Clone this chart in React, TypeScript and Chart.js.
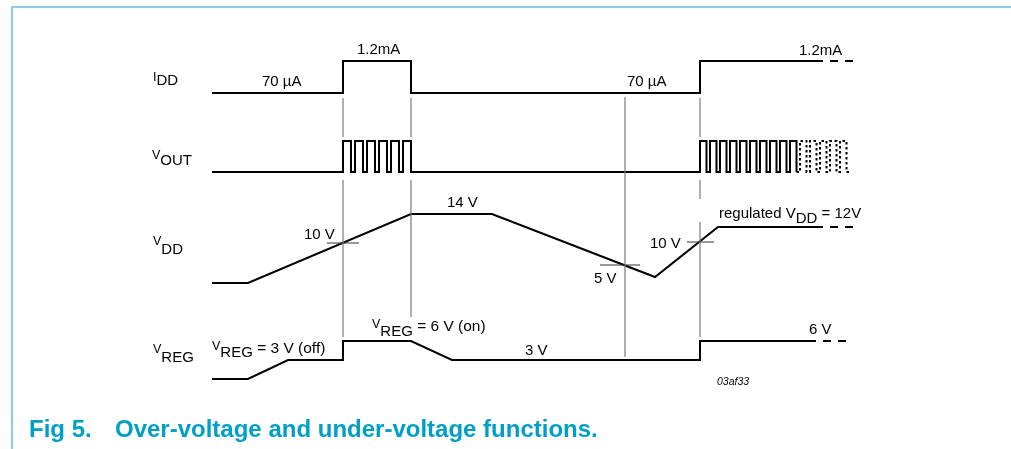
import React, { useEffect, useRef } from "react";
import { Chart, registerables } from "chart.js";

Chart.register(...registerables);

const W = 1011;
const H = 449;

// ---- Signal breakpoints (time axis, diagram level axis) ----
// I_DD
const iddTimes = [212, 343, 343, 411, 411, 700, 700, 815];
const iddLevels = [93, 93, 61, 61, 93, 93, 61, 61];
const iddDashTimes = [815, 855];
const iddDashLevels = [61, 61];

// V_OUT pulse trains: rising / falling edge times
const voutLow = 172;
const voutHigh = 141;
const voutStart = 212;
const burst1Rise = [343, 355, 367, 379, 391, 403];
const burst1Fall = [351, 363, 375, 387, 399, 411];
const burst2Rise = [700, 710, 720, 730, 740, 750, 760, 770, 780, 790];
const burst2Fall = [706.5, 716.5, 726.5, 736.5, 746.5, 756.5, 766.5, 776.5, 786.5, 796.5];
const burst3Rise = [800, 810, 820, 830, 840];
const burst3Fall = [806.5, 816.5, 826.5, 836.5, 846.5];
const voutEnd = 851;

// V_DD
const vddTimes = [212, 248, 411, 492, 655, 718, 815];
const vddLevels = [283, 283, 214, 214, 277, 227, 227];
const vddDashTimes = [815, 856];
const vddDashLevels = [227, 227];

// V_REG
const vregTimes = [212, 248, 288, 343, 343, 411, 452, 700, 700, 808];
const vregLevels = [379, 379, 360, 360, 341, 341, 360, 360, 341, 341];
const vregDashTimes = [808, 850];
const vregDashLevels = [341, 341];

// Threshold markers on V_DD
const markTimes = [343, 625, 700];
const markLevels = [243, 265, 242];
const markLeft = [327, 600, 687];
const markRight = [359, 640, 714];

// Vertical reference lines: time and visible spans
const guideTimes = [343, 343, 411, 411, 625, 700, 700, 700];
const guideFrom = [98, 180, 98, 180, 97, 98, 180, 222];
const guideTo = [137, 337, 137, 317, 357, 137, 199, 337];

const FONT = '"Liberation Sans", Arial, Helvetica, sans-serif';

type Run = { text: string; size: number; base: number; italic?: boolean };
type Label = { x: number; runs: Run[] };

const labels: Label[] = [
  { x: 153, runs: [{ text: "I", size: 12.5, base: 81 }, { text: "DD", size: 15, base: 85 }] },
  { x: 152, runs: [{ text: "V", size: 12.5, base: 159 }, { text: "OUT", size: 15, base: 165 }] },
  { x: 153, runs: [{ text: "V", size: 12.5, base: 245 }, { text: "DD", size: 15, base: 254 }] },
  { x: 153, runs: [{ text: "V", size: 12.5, base: 353 }, { text: "REG", size: 15, base: 362 }] },
  { x: 262, runs: [{ text: "70 µA", size: 15, base: 86 }] },
  { x: 357, runs: [{ text: "1.2mA", size: 15, base: 54 }] },
  { x: 627, runs: [{ text: "70 µA", size: 15, base: 86 }] },
  { x: 799, runs: [{ text: "1.2mA", size: 15, base: 55 }] },
  { x: 304, runs: [{ text: "10 V", size: 15, base: 239 }] },
  { x: 447, runs: [{ text: "14 V", size: 15, base: 207 }] },
  { x: 594, runs: [{ text: "5 V", size: 15, base: 283 }] },
  { x: 650, runs: [{ text: "10 V", size: 15, base: 248 }] },
  { x: 525, runs: [{ text: "3 V", size: 15, base: 355 }] },
  { x: 809, runs: [{ text: "6 V", size: 15, base: 334 }] },
  {
    x: 212,
    runs: [
      { text: "V", size: 12.5, base: 350 },
      { text: "REG", size: 15, base: 357 },
      { text: " = 3 V (off)", size: 15.5, base: 353 },
    ],
  },
  {
    x: 372,
    runs: [
      { text: "V", size: 12.5, base: 328 },
      { text: "REG", size: 15, base: 336 },
      { text: " = 6 V (on)", size: 15.5, base: 331 },
    ],
  },
  {
    x: 719,
    runs: [
      { text: "regulated V", size: 15, base: 218 },
      { text: "DD", size: 15, base: 223 },
      { text: " = 12V", size: 15, base: 218 },
    ],
  },
  { x: 717, runs: [{ text: "03af33", size: 10.5, base: 385, italic: true }] },
];

const captionNum = "Fig 5.";
const captionText = "Over-voltage and under-voltage functions.";

function zipPts(t: number[], v: number[]) {
  return t.map((x, i) => ({ x, y: v[i] }));
}

function pulsePts(start: number, rises: number[], falls: number[], end: number) {
  const pts: { x: number; y: number }[] = [{ x: start, y: voutLow }];
  rises.forEach((r, i) => {
    pts.push({ x: r, y: voutLow }, { x: r, y: voutHigh }, { x: falls[i], y: voutHigh }, { x: falls[i], y: voutLow });
  });
  pts.push({ x: end, y: voutLow });
  return pts;
}

function line(data: { x: number; y: number }[], opts: any = {}) {
  return {
    data,
    showLine: true,
    pointRadius: 0,
    borderColor: "#000",
    borderWidth: 2,
    tension: 0,
    fill: false,
    borderCapStyle: "butt",
    borderJoinStyle: "miter",
    ...opts,
  };
}

const decorPlugin = {
  id: "decor",
  beforeDraw(chart: any) {
    const ctx = chart.ctx;
    ctx.save();
    ctx.fillStyle = "#fff";
    ctx.fillRect(0, 0, chart.width, chart.height);
    ctx.strokeStyle = "#86d0e2";
    ctx.lineWidth = 2;
    ctx.beginPath();
    ctx.moveTo(12, chart.height);
    ctx.lineTo(12, 7);
    ctx.lineTo(chart.width, 7);
    ctx.stroke();
    ctx.restore();
  },
  afterDatasetsDraw(chart: any) {
    const ctx = chart.ctx;
    const xs = chart.scales.x;
    const ys = chart.scales.y;
    ctx.save();
    ctx.fillStyle = "#000";
    ctx.textBaseline = "alphabetic";
    ctx.textAlign = "left";
    labels.forEach((lab) => {
      let px = xs.getPixelForValue(lab.x);
      lab.runs.forEach((r) => {
        ctx.font = `${r.italic ? "italic " : ""}${r.size}px ${FONT}`;
        ctx.fillText(r.text, px, ys.getPixelForValue(r.base));
        px += ctx.measureText(r.text).width;
      });
    });
    ctx.fillStyle = "#00a0c6";
    ctx.font = `bold 24px ${FONT}`;
    ctx.fillText(captionNum, 29, 437);
    ctx.fillText(captionText, 115, 437);
    ctx.restore();
  },
};

export default function App() {
  const ref = useRef<HTMLCanvasElement | null>(null);

  useEffect(() => {
    if (!ref.current) return;
    const datasets: any[] = [];

    guideTimes.forEach((t, i) => {
      datasets.push(
        line(
          [
            { x: t, y: guideFrom[i] },
            { x: t, y: guideTo[i] },
          ],
          { borderColor: "#7a7a7a", borderWidth: 1.2 }
        )
      );
    });
    markTimes.forEach((_, i) => {
      datasets.push(
        line(
          [
            { x: markLeft[i], y: markLevels[i] },
            { x: markRight[i], y: markLevels[i] },
          ],
          { borderColor: "#333", borderWidth: 1 }
        )
      );
    });

    datasets.push(line(zipPts(iddTimes, iddLevels)));
    datasets.push(line(zipPts(iddDashTimes, iddDashLevels), { borderDash: [8, 7] }));

    const b1 = pulsePts(voutStart, burst1Rise, burst1Fall, burst2Rise[0]);
    const b2 = pulsePts(burst2Rise[0], burst2Rise, burst2Fall, burst2Fall[burst2Fall.length - 1]);
    datasets.push(line([...b1, ...b2]));
    datasets.push(
      line(pulsePts(burst2Fall[burst2Fall.length - 1], burst3Rise, burst3Fall, voutEnd), {
        borderDash: [2.5, 2.5],
      })
    );

    datasets.push(line(zipPts(vddTimes, vddLevels)));
    datasets.push(line(zipPts(vddDashTimes, vddDashLevels), { borderDash: [8, 7] }));

    datasets.push(line(zipPts(vregTimes, vregLevels)));
    datasets.push(line(zipPts(vregDashTimes, vregDashLevels), { borderDash: [8, 7] }));

    const chart = new Chart(ref.current, {
      type: "scatter",
      data: { datasets },
      options: {
        animation: false,
        responsive: false,
        maintainAspectRatio: false,
        devicePixelRatio: 1,
        events: [],
        layout: { padding: 0 },
        plugins: { legend: { display: false }, tooltip: { enabled: false } },
        scales: {
          x: { type: "linear", min: 0, max: W, display: false },
          y: { type: "linear", min: 0, max: H, reverse: true, display: false },
        },
      },
      plugins: [decorPlugin],
    } as any);
    return () => chart.destroy();
  }, []);

  return (
    <div style={{ position: "absolute", left: 0, top: 0, width: W, height: H }}>
      <canvas ref={ref} width={W} height={H} style={{ display: "block" }} />
    </div>
  );
}
